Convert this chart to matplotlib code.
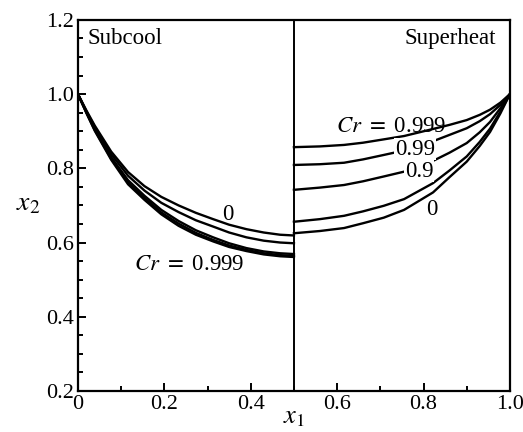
import matplotlib
matplotlib.use("Agg")
import matplotlib.pyplot as plt
from matplotlib.ticker import MultipleLocator

plt.rcParams['font.family'] = ['Liberation Serif', 'DejaVu Serif']
plt.rcParams['mathtext.fontset'] = 'stix'

# subcool side, x1 from 0 to 0.5 (Cr = 0, 0.5, 0.9, 0.99, 0.999)
sub_x = [0.0, 0.02, 0.039, 0.077, 0.116, 0.154, 0.193, 0.233, 0.273, 0.313,
         0.35, 0.39, 0.43, 0.468, 0.5]
sub_y = {
    '0':     [1.0, 0.955, 0.915, 0.845, 0.790, 0.752, 0.723, 0.700, 0.680, 0.663,
              0.648, 0.636, 0.627, 0.621, 0.619],
    '0.5':   [1.0, 0.953, 0.911, 0.838, 0.780, 0.740, 0.707, 0.682, 0.660, 0.643,
              0.627, 0.614, 0.605, 0.600, 0.598],
    '0.9':   [1.0, 0.950, 0.906, 0.830, 0.768, 0.726, 0.688, 0.658, 0.633, 0.614,
              0.598, 0.585, 0.576, 0.571, 0.569],
    '0.99':  [1.0, 0.949, 0.903, 0.826, 0.762, 0.720, 0.681, 0.651, 0.626, 0.607,
              0.592, 0.580, 0.571, 0.566, 0.564],
    '0.999': [1.0, 0.948, 0.901, 0.823, 0.757, 0.715, 0.676, 0.645, 0.621, 0.603,
              0.588, 0.577, 0.568, 0.563, 0.561],
}

# superheat side, x1 from 0.5 to 1
sup_x = [0.5, 0.56, 0.616, 0.66, 0.708, 0.755, 0.822, 0.86, 0.9, 0.93, 0.954, 0.978, 1.0]
sup_y = {
    '0.999': [0.857, 0.859, 0.863, 0.869, 0.878, 0.887, 0.906, 0.917, 0.930, 0.944,
              0.958, 0.977, 1.0],
    '0.99':  [0.809, 0.811, 0.815, 0.824, 0.836, 0.848, 0.873, 0.890, 0.908, 0.927,
              0.946, 0.971, 1.0],
    '0.9':   [0.742, 0.748, 0.755, 0.765, 0.778, 0.791, 0.820, 0.842, 0.868, 0.897,
              0.925, 0.962, 1.0],
    '0.5':   [0.656, 0.663, 0.672, 0.684, 0.699, 0.717, 0.760, 0.794, 0.832, 0.871,
              0.907, 0.953, 1.0],
    '0':     [0.625, 0.631, 0.639, 0.652, 0.667, 0.688, 0.735, 0.776, 0.818, 0.860,
              0.898, 0.948, 1.0],
}

xticks = [0, 0.2, 0.4, 0.6, 0.8, 1.0]
xtick_labels = ['0', '0.2', '0.4', '0.6', '0.8', '1.0']
yticks = [0.2, 0.4, 0.6, 0.8, 1.0, 1.2]
ytick_labels = ['0.2', '0.4', '0.6', '0.8', '1.0', '1.2']

fig = plt.figure(figsize=(5.23, 4.32), dpi=100)
ax = fig.add_axes([0.149, 0.095, 0.826, 0.859])

for k in sub_y:
    ax.plot(sub_x, sub_y[k], color='black', lw=1.7, solid_joinstyle='round')
for k in sup_y:
    ax.plot(sup_x, sup_y[k], color='black', lw=1.7, solid_joinstyle='round')

ax.axvline(0.5, color='black', lw=1.4)

ax.set_xlim(0, 1.0)
ax.set_ylim(0.2, 1.2)
ax.set_xticks(xticks)
ax.set_xticklabels(xtick_labels)
ax.set_yticks(yticks)
ax.set_yticklabels(ytick_labels)
ax.xaxis.set_minor_locator(MultipleLocator(0.1))
ax.yaxis.set_minor_locator(MultipleLocator(0.05))
ax.tick_params(which='both', direction='in', top=False, right=False,
               labelsize=16, width=1.4, pad=3)
ax.tick_params(which='major', length=6)
ax.tick_params(which='minor', length=3.5)
for s in ax.spines.values():
    s.set_linewidth(1.6)

ax.set_xlabel(r'$x_1$', fontsize=19, labelpad=-5)
ax.set_ylabel(r'$x_2$', fontsize=20, rotation=0)
ax.yaxis.set_label_coords(-0.115, 0.47)

fs = 16.5
gap = dict(facecolor='white', edgecolor='none', pad=0.5)
ax.text(0.023, 1.178, 'Subcool', fontsize=fs, va='top', ha='left')
ax.text(0.968, 1.178, 'Superheat', fontsize=fs, va='top', ha='right')

ax.text(0.347, 0.676, '0', fontsize=fs, ha='center', va='center')
ax.text(0.13, 0.542, r'$\mathit{Cr}$ $=$ 0.999', fontsize=fs, ha='left', va='center')

ax.text(0.598, 0.914, r'$\mathit{Cr}$ $=$ 0.999', fontsize=fs, ha='left', va='center')
ax.text(0.78, 0.852, '0.99', fontsize=fs, ha='center', va='center', bbox=gap, zorder=5)
ax.text(0.79, 0.792, '0.9', fontsize=fs, ha='center', va='center', bbox=gap, zorder=5)
ax.text(0.82, 0.688, '0', fontsize=fs, ha='center', va='center')

fig.savefig('out.png', dpi=100)
